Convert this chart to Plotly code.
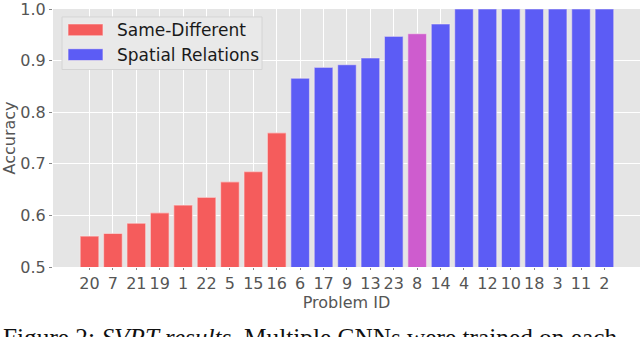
import plotly.graph_objects as go

problem_ids = ["20", "7", "21", "19", "1", "22", "5", "15", "16", "6", "17", "9",
               "13", "23", "8", "14", "4", "12", "10", "18", "3", "11", "2"]
accuracy = [0.560, 0.565, 0.585, 0.605, 0.620, 0.635, 0.665, 0.685, 0.760, 0.866,
            0.887, 0.892, 0.905, 0.947, 0.952, 0.971, 1.0, 1.0, 1.0, 1.0, 1.0, 1.0, 1.0]
group = ["sd"] * 9 + ["sr"] * 5 + ["both"] + ["sr"] * 8

series = [
    ("sd", "Same-Different", "#f55c5c", True),
    ("sr", "Spatial Relations", "#5c5cf5", True),
    ("both", "Both", "#ce5cce", False),
]
edge = "rgba(245,235,235,0.55)"

W, H = 640, 337
ML, MR, MT, MB = 53, 0, 7, 70
PW, PH = W - ML - MR, H - MT - MB


def px(x):
    return (x - ML) / PW


def py(y):
    return (H - MB - y) / PH


fig = go.Figure()
for key, name, color, show in series:
    xs = [p for p, g in zip(problem_ids, group) if g == key]
    ys = [a for a, g in zip(accuracy, group) if g == key]
    fig.add_trace(go.Bar(
        x=xs, y=ys, name=name, showlegend=False, width=0.8,
        marker=dict(color=color, line=dict(color=edge, width=1.2)),
    ))

font_main = "DejaVu Sans"
fig.update_layout(
    width=W, height=H,
    margin=dict(l=ML, r=MR, t=MT, b=MB),
    paper_bgcolor="white", plot_bgcolor="#e5e5e5",
    barmode="overlay", bargap=0.2, showlegend=False,
    font=dict(family=font_main, size=16, color="#555555"),
    xaxis=dict(type="category", categoryorder="array", categoryarray=problem_ids,
               range=[-1.56, 23.52], showgrid=True, gridcolor="white", gridwidth=1.2,
               ticks="outside", ticklen=2, tickcolor="#888888", zeroline=False,
               tickfont=dict(size=16, color="#555555"),
               title=dict(text="Problem ID", font=dict(size=16, color="#555555"), standoff=0)),
    yaxis=dict(range=[0.5, 1.0], tickvals=[0.5, 0.6, 0.7, 0.8, 0.9, 1.0],
               ticktext=["0.5", "0.6", "0.7", "0.8", "0.9", "1.0"],
               ticklabeloverflow="allow",
               showgrid=True, gridcolor="white", gridwidth=1.2, zeroline=False,
               ticks="outside", ticklen=3, tickcolor="#888888",
               tickfont=dict(size=16, color="#555555"),
               title=dict(text="Accuracy", font=dict(size=16, color="#555555"), standoff=4)),
)

# legend box (drawn manually to match the wide matplotlib patches)
fig.add_shape(type="rect", xref="paper", yref="paper",
              x0=px(62), x1=px(262), y0=py(68), y1=py(15),
              fillcolor="#e9e9e9", line=dict(color="#d4d4d4", width=1), layer="above")
legend_rows = [("Same-Different", "#f55c5c", 28), ("Spatial Relations", "#5c5cf5", 53)]
for label, color, yc in legend_rows:
    fig.add_shape(type="rect", xref="paper", yref="paper",
                  x0=px(68), x1=px(103), y0=py(yc + 6), y1=py(yc - 6),
                  fillcolor=color, line=dict(color=edge, width=1.2), layer="above")
    fig.add_annotation(text=label, xref="paper", yref="paper", x=px(115), y=py(yc),
                       xanchor="left", yanchor="middle", showarrow=False,
                       font=dict(family=font_main, size=17, color="#1a1a1a"))

fig.add_annotation(
    text="Figure 2: <i>SVRT results</i>. Multiple CNNs were trained on each",
    xref="paper", yref="paper", x=px(1), y=py(321), xanchor="left", yanchor="top",
    showarrow=False, font=dict(family="Liberation Serif", size=25.3, color="#111111"),
)

fig.write_html("out.html", config={"displayModeBar": False},
               post_script="document.body.style.margin='0';")
